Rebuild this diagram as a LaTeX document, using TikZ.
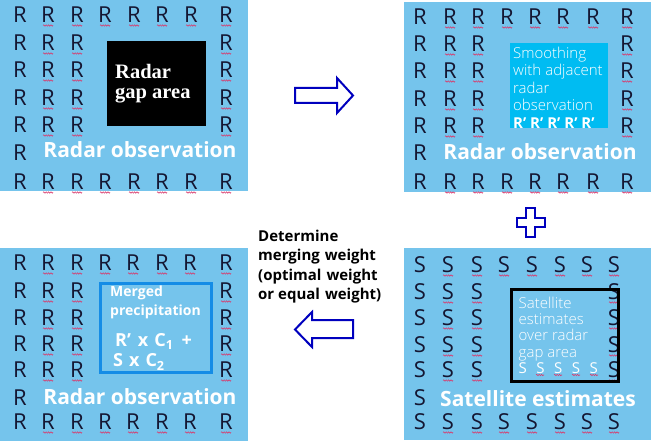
\documentclass[tikz,border=0pt]{standalone}
\usepackage{fontspec}
\usepackage{tikz}
\usetikzlibrary{decorations.pathmorphing}
\setmainfont{Open Sans}
\newfontfamily\lightfont{Open Sans Light}
\newfontfamily\gapfont{Liberation Serif}

\definecolor{panelblue}{RGB}{117,196,236}
\definecolor{smoothcyan}{RGB}{0,188,242}
\definecolor{mergeblue}{RGB}{20,140,230}
\definecolor{letterink}{RGB}{20,22,50}
\definecolor{arrowblue}{RGB}{0,0,190}
\definecolor{spellred}{RGB}{215,60,110}

\tikzset{
  panel/.style={fill=panelblue},
  gridletter/.style={text=letterink, font=\fontsize{22}{22}\selectfont, inner sep=0pt},
  spell/.style={draw=spellred, line width=0.6pt, decorate,
    decoration={snake, segment length=2.4pt, amplitude=0.7pt}},
  paneltitle/.style={text=white, font=\fontsize{21}{21}\selectfont\bfseries, inner sep=0pt},
  boxtext/.style={text=white, inner sep=0pt, anchor=north west, align=left},
  blockarrow/.style={draw=arrowblue, fill=white, line width=2pt, line join=miter},
}

% one panel of letters: name, letter, column xs, row ys
\newcommand{\lettergrid}[4]{%
  \foreach \gy [count=\r] in {#4} {
    \foreach \gx [count=\c] in {#3} {
      \pgfmathtruncatemacro{\cellon}{(\r==1 || \r==7) || ((\r>1 && \r<6) && (\c<4 || \c==8)) || (\r==6 && \c==1)}
      \ifnum\cellon=1
        \node[gridletter] (#1-\r-\c) at (\gx,\gy) {#2};
        \ifnum\c>1
          \draw[spell] ([xshift=-5pt,yshift=-10.5pt]#1-\r-\c.center) -- ++(10,0);
        \fi
      \fi
    }
  }
}

\begin{document}
\begin{tikzpicture}[x=1pt,y=-1pt]
  \useasboundingbox (0,0) rectangle (653,441);

  % the four panels
  \fill[panel] (0,0) rectangle (248,191);
  \fill[panel] (404,2) rectangle (651,192);
  \fill[panel] (0,248) rectangle (248,441);
  \fill[panel] (404,248) rectangle (651,440);

  % radar observation with gap
  \lettergrid{tl}{R}{20,48,77,105,134,162,191,226}{15,43,70,98,125,153,182}
  \fill[black] (107,41) rectangle (206,126);
  \node[boxtext, font=\fontsize{20.5}{20}\gapfont\bfseries] (gap) at (115,64) {Radar\\gap area};
  \node[paneltitle] (tl-title) at (140,150) {Radar observation};

  % smoothed radar observation
  \lettergrid{tr}{R}{420,450,478,507,535,563,593,627}{17,44,71,99,126,153,182}
  \fill[smoothcyan] (510,43) rectangle (608,128);
  \node[boxtext, font=\fontsize{15}{17.5}\lightfont] (smooth) at (513,46.6)
    {Smoothing\\with\hspace{4pt}adjacent\\radar\\observation\\{\bfseries\fontspec{Open Sans} R’ R’ R’ R’ R’}};
  \node[paneltitle] (tr-title) at (540,152) {Radar observation};

  % satellite estimates
  \lettergrid{br}{S}{420,448,477,504,532,560,587,614}{265,292,318,345,370,398,422}
  \draw[black, line width=3pt] (511,289) rectangle (618,381);
  \node[boxtext, font=\fontsize{15}{16.3}\lightfont] (sat) at (518.5,296.6)
    {Satellite\\estimates\\over radar\\gap area\\{\fontspec{Open Sans}S\hspace{9.5pt}S\hspace{9.5pt}S\hspace{9.5pt}S\hspace{9.5pt}S}};
  \foreach \sx in {540,558,576,594}
    \draw[spell] (\sx-4,375) -- ++(8,0);
  \node[paneltitle] (br-title) at (538,399) {Satellite estimates};

  % merged radar observation
  \lettergrid{bl}{R}{20,48,77,105,133,162,190,226}{263,291,318,344,370,398,422}
  \draw[mergeblue, line width=3pt] (100.5,283.5) rectangle (211.5,372.5);
  \node[boxtext, font=\fontsize{14}{19}\selectfont\bfseries] (merged) at (110,286)
    {Merged\\precipitation\\[12pt]
     {\fontsize{18}{19}\selectfont\hspace{5pt}R’\hspace{7pt}x\hspace{6pt}C\textsubscript{1}\hspace{8pt}+}\\[1pt]
     {\fontsize{18}{19}\selectfont\hspace{3pt}S\hspace{6pt}x\hspace{6pt}C\textsubscript{2}}};
  \node[paneltitle] (bl-title) at (140,397) {Radar observation};

  % block arrows and plus
  \draw[blockarrow] (295,88) -- (337,88) -- (337,78) -- (353,95.5) -- (337,113)
    -- (337,103) -- (295,103) -- cycle;
  \draw[blockarrow] (526,208) -- (535,208) -- (535,218) -- (545,218) -- (545,227)
    -- (535,227) -- (535,237) -- (526,237) -- (526,227) -- (517,227) -- (517,218)
    -- (526,218) -- cycle;
  \draw[blockarrow] (353,320) -- (312,320) -- (312,312) -- (295,329.5) -- (312,347)
    -- (312,338) -- (353,338) -- cycle;
  \node[anchor=north west, align=left, inner sep=0pt, font=\fontsize{15}{19.3}\selectfont\bfseries]
    (weight) at (258,230) {Determine\\merging\hspace{5pt}weight\\(optimal\hspace{5pt}weight\\or equal\hspace{5pt}weight)};
\end{tikzpicture}
\end{document}
